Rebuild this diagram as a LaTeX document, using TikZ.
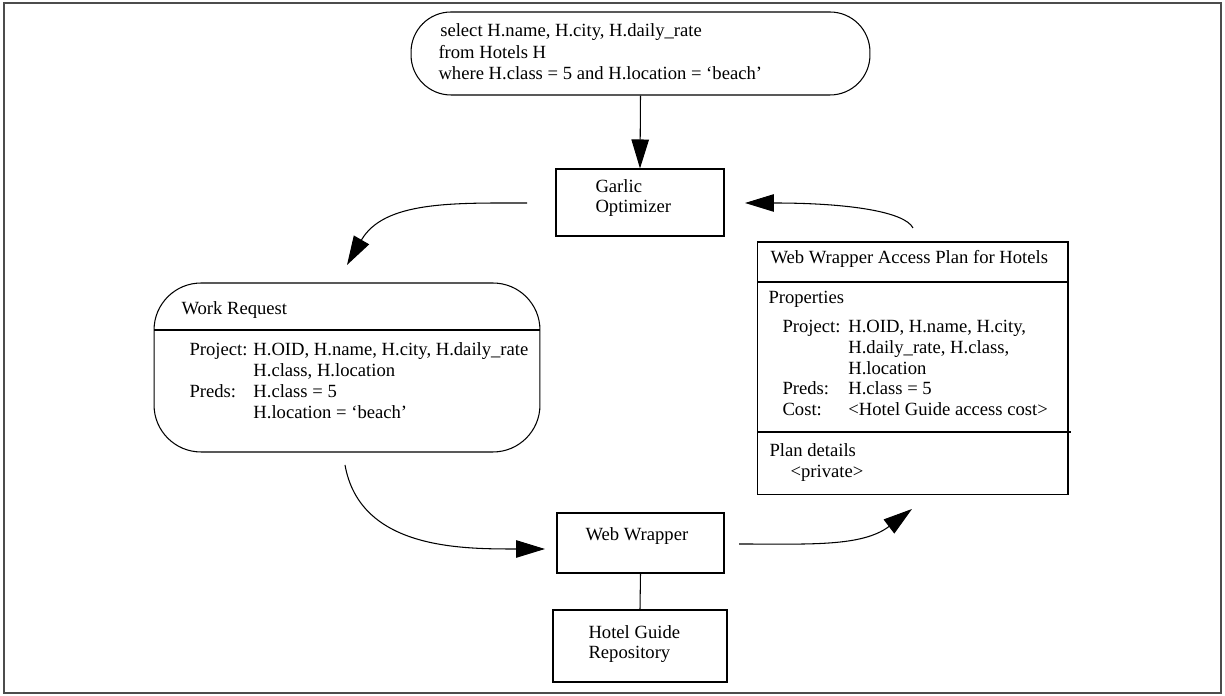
\documentclass[tikz,border=0pt]{standalone}
\usepackage{fontspec}
\setmainfont{Liberation Serif}
\usetikzlibrary{arrows.meta}

\begin{document}
\begin{tikzpicture}[x=0.02cm, y=0.02cm, line width=0.6pt,
    box/.style={draw, rectangle, inner sep=0pt},
    txt/.style={anchor=base west, inner sep=0pt, align=left, font=\fontsize{10.6}{11.4}\selectfont},
    flow/.style={-{Triangle[length=0.58cm, width=0.35cm]}}]
  \useasboundingbox (0,0) rectangle (1225,696);
  \draw[black!70, line width=1.1pt] (4,3) rectangle (1221,693);

  \node[box, rounded corners=0.8cm, minimum width=9.18cm, minimum height=1.66cm] (query) at (640.5,642.5) {};
  \node[txt, font=\fontsize{10.6}{12.3}\selectfont] (query-text) at (438,616) {\hspace*{1pt}select H.name, H.city, H.daily\_rate\\from Hotels H\\where H.class = 5 and H.location = ‘beach’};

  \node[box, minimum width=3.36cm, minimum height=1.34cm] (garlic) at (640,493.5) {};
  \node[txt] (garlic-text) at (595,483) {Garlic\\Optimizer};

  \node[box, rounded corners=0.94cm, minimum width=7.72cm, minimum height=3.38cm] (work) at (347,328.5) {};
  \draw (154,366) -- (540,366);
  \node[txt] (work-title) at (181,381) {Work Request};
  \node[txt, font=\fontsize{10.6}{11.8}\selectfont] (work-body) at (189,340) {\begin{tabular}[t]{@{}l@{\hspace{3.4pt}}l@{}}Project: & H.OID, H.name, H.city, H.daily\_rate\\ & H.class, H.location\\Preds: & H.class = 5\\ & H.location = ‘beach’\end{tabular}};

  \node[box, minimum width=3.34cm, minimum height=1.2cm] (ww) at (640.5,153) {};
  \node[txt] (ww-text) at (585,155) {Web Wrapper};

  \node[box, minimum width=3.48cm, minimum height=1.44cm] (hotel) at (640,50) {};
  \node[txt] (hotel-text) at (588,37) {Hotel Guide\\Repository};

  \node[box, minimum width=6.22cm, minimum height=5.06cm] (wwa) at (912.5,327.5) {};
  \draw (757,414) -- (1068,414);
  \draw (757,264) -- (1071,264);
  \node[txt] (wwa-title) at (770,432) {Web Wrapper Access Plan for Hotels};
  \node[txt] (wwa-props) at (768,392) {Properties};
  \node[txt, font=\fontsize{10.6}{11.7}\selectfont] (wwa-body) at (782,363) {\begin{tabular}[t]{@{}l@{\hspace{4.5pt}}l@{}}Project: & H.OID, H.name, H.city,\\ & H.daily\_rate, H.class,\\ & H.location\\Preds: & H.class = 5\\Cost: & <Hotel Guide access cost>\end{tabular}};
  \node[txt, font=\fontsize{10.6}{12}\selectfont] (wwa-plan) at (769,218) {Plan details\\\hspace*{12pt}<private>};

  \coordinate (garlic-out) at (527,493);
  \coordinate (work-in) at (347,431);
  \coordinate (work-out) at (345,231);
  \coordinate (ww-in) at (545,147);
  \coordinate (ww-out) at (739,152);
  \coordinate (wwa-in) at (912,187);
  \coordinate (wwa-out) at (913,468);
  \coordinate (garlic-in) at (745,493);

  \draw[flow] (query.south) -- (garlic.north);
  \draw[flow] (garlic-out) .. controls +(-74,0) and +(37,64) .. (work-in);
  \draw[flow] (work-out) .. controls +(15,-84) and +(-85,0) .. (ww-in);
  \draw[flow] (ww-out) .. controls +(70,0) and +(-50,-38) .. (wwa-in);
  \draw[flow] (wwa-out) .. controls +(-8,16) and +(105,0) .. (garlic-in);
  \draw (ww.south) -- (hotel.north);
\end{tikzpicture}
\end{document}
